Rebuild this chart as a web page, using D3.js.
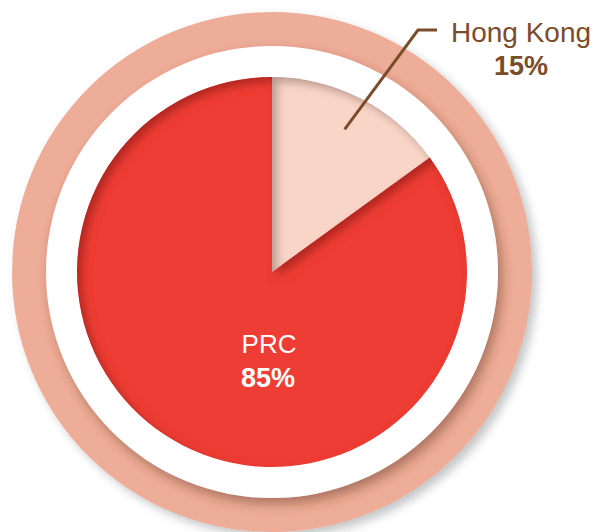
<!DOCTYPE html>
<html>
<head>
<meta charset="utf-8">
<script src="https://cdn.jsdelivr.net/npm/d3@7"></script>
<style>
  html, body { margin: 0; padding: 0; background: #ffffff; }
  svg { display: block; }
</style>
</head>
<body>
<svg id="chart" width="610" height="532"></svg>
<script>
const categories = ["Hong Kong", "PRC"];
const values = [15, 85];
const labels = ["15%", "85%"];
const sliceColors = ["#F9D5C8", "#EE3C36"];

const W = 610, H = 532;
const cx = 272, cy = 272;
const rOuter = 260, rWhite = 226, rPie = 195;

const svg = d3.select("#chart");
const defs = svg.append("defs");

const f1 = defs.append("filter").attr("id", "ringShadow")
  .attr("x", "-20%").attr("y", "-20%").attr("width", "140%").attr("height", "140%");
f1.append("feDropShadow").attr("dx", 5).attr("dy", 5).attr("stdDeviation", 5)
  .attr("flood-color", "#555a60").attr("flood-opacity", 0.35);

const f2 = defs.append("filter").attr("id", "whiteShadow")
  .attr("x", "-20%").attr("y", "-20%").attr("width", "140%").attr("height", "140%");
f2.append("feDropShadow").attr("dx", 4).attr("dy", 6).attr("stdDeviation", 6)
  .attr("flood-color", "#5a2a1a").attr("flood-opacity", 0.45);

// inner shadow for slices (light from top-left)
const f3 = defs.append("filter").attr("id", "innerShadow")
  .attr("x", "-10%").attr("y", "-10%").attr("width", "120%").attr("height", "120%");
f3.append("feOffset").attr("in", "SourceAlpha").attr("dx", 5).attr("dy", 5).attr("result", "off");
f3.append("feGaussianBlur").attr("in", "off").attr("stdDeviation", 5).attr("result", "blur");
f3.append("feComposite").attr("in", "SourceAlpha").attr("in2", "blur")
  .attr("operator", "arithmetic").attr("k2", 1).attr("k3", -1).attr("result", "inv");
f3.append("feFlood").attr("flood-color", "#4a0505").attr("flood-opacity", 0.55);
f3.append("feComposite").attr("in2", "inv").attr("operator", "in").attr("result", "shadow");
const m = f3.append("feMerge");
m.append("feMergeNode").attr("in", "SourceGraphic");
m.append("feMergeNode").attr("in", "shadow");

const g = svg.append("g").attr("transform", `translate(${cx},${cy})`);

g.append("circle").attr("r", rOuter).attr("fill", "#EEAD98").attr("filter", "url(#ringShadow)");
g.append("circle").attr("r", rWhite).attr("fill", "#ffffff").attr("filter", "url(#whiteShadow)");

const data = categories.map((c, i) => ({ name: c, value: values[i], label: labels[i], color: sliceColors[i] }));
const pie = d3.pie().sort(null).value(d => d.value);
const arcs = pie(data);
const arc = d3.arc().innerRadius(0).outerRadius(rPie);

g.selectAll("path.slice").data(arcs).enter().append("path")
  .attr("class", "slice")
  .attr("d", arc)
  .attr("fill", d => d.data.color)
  .attr("filter", "url(#innerShadow)");

// leader line for Hong Kong
const hk = arcs[0];
const mid = (hk.startAngle + hk.endAngle) / 2;
const p0 = [Math.sin(mid) * 160, -Math.cos(mid) * 160];
const bend = [146, -242];
const end = [165, -242];
g.append("path")
  .attr("d", d3.line()([p0, bend, end]))
  .attr("fill", "none").attr("stroke", "#7A4C2A").attr("stroke-width", 3);

const brown = "#7A4C2A";
const font = "Liberation Sans, Arial, Helvetica, sans-serif";

g.append("text").attr("x", 249).attr("y", -230.5)
  .attr("text-anchor", "middle").attr("font-family", font).attr("font-size", 28)
  .attr("fill", brown).text(hk.data.name);
g.append("text").attr("x", 249).attr("y", -197)
  .attr("text-anchor", "middle").attr("font-family", font).attr("font-size", 27)
  .attr("font-weight", "bold").attr("fill", brown).text(hk.data.label);

const prc = arcs[1];
g.append("text").attr("x", -3).attr("y", 80.5)
  .attr("text-anchor", "middle").attr("font-family", font).attr("font-size", 26)
  .attr("fill", "#ffffff").text(prc.data.name);
g.append("text").attr("x", -4).attr("y", 114.5)
  .attr("text-anchor", "middle").attr("font-family", font).attr("font-size", 27)
  .attr("font-weight", "bold").attr("fill", "#ffffff").text(prc.data.label);
</script>
</body>
</html>
